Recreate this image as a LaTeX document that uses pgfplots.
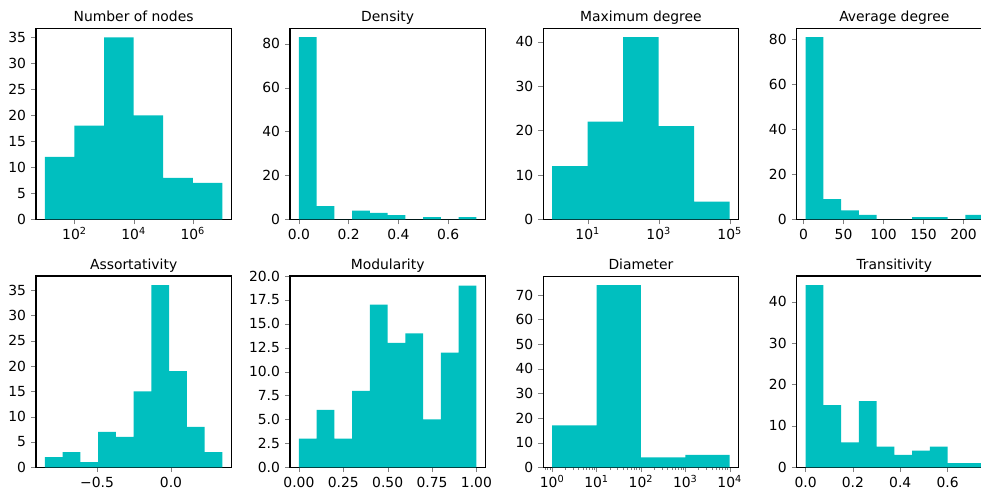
\documentclass[border=0pt]{standalone}
\usepackage{fontspec}
\setmainfont{DejaVu Sans}
\usepackage{pgfplots}
\pgfplotsset{compat=1.18}
\definecolor{histc}{HTML}{00BFBF}

% matplotlib-like panel: 1px = 0.72pt
\pgfplotsset{
  hist/.style={
    scale only axis, width=140.6pt, height=137.7pt, anchor=south west,
    line width=0.8pt, tick align=outside, xtick pos=left, ytick pos=left,
    major tick length=3.5pt, minor tick length=2pt,
    every minor tick/.append style={line width=0.6pt},
    ymin=0, xminorticks=false, yminorticks=false,
    every axis title shift=0pt,
    title style={at={(0.5,1)}, anchor=base, yshift=4.8pt, inner sep=0pt},
  },
}
\newcommand{\e}[1]{10\smash{\textsuperscript{#1}}}

\begin{document}
\begin{tikzpicture}
\path[use as bounding box] (0,0) rectangle (706.32pt,352.8pt);
\clip (0,0) rectangle (706.32pt,352.8pt);

% ---- top row ----
\begin{axis}[hist, at={(25.92pt,194.83pt)}, title={Number of nodes},
  xmode=log, xmin=5.012, xmax=1.995e7, ymax=36.75,
  xtick={1e2,1e4,1e6}, xticklabels={\e{2},\e{4},\e{6}},
  ytick={0,5,...,35}, yticklabels={0,5,10,15,20,25,30,35}]
\addplot[ybar interval, fill=histc, draw=none] coordinates {
  (1e1,12) (1e2,18) (1e3,35) (1e4,20) (1e5,8) (1e6,7) (1e7,0)};
\end{axis}

\begin{axis}[hist, at={(208.8pt,194.83pt)}, title={Density},
  xmin=-0.0357, xmax=0.7497, ymax=87.15,
  xtick={0,0.2,0.4,0.6}, xticklabels={0.0,0.2,0.4,0.6},
  ytick={0,20,...,80}, yticklabels={0,20,40,60,80}]
\addplot[ybar interval, fill=histc, draw=none] coordinates {
  (0,83) (0.0714,6) (0.1428,0) (0.2142,4) (0.2856,3) (0.357,2)
  (0.4284,0) (0.4998,1) (0.5712,0) (0.6426,1) (0.714,0)};
\end{axis}

\begin{axis}[hist, at={(391.18pt,194.83pt)}, title={Maximum degree},
  xmode=log, xmin=0.5623, xmax=177828, ymax=43.05,
  xtick={1e1,1e3,1e5}, xticklabels={\e{1},\e{3},\e{5}},
  ytick={0,10,...,40}, yticklabels={0,10,20,30,40}]
\addplot[ybar interval, fill=histc, draw=none] coordinates {
  (1,12) (1e1,22) (1e2,41) (1e3,21) (1e4,4) (1e5,0)};
\end{axis}

\begin{axis}[hist, at={(573.62pt,194.83pt)}, title={Average degree},
  xmin=-8.6, xmax=235.6, ymax=85.05,
  xtick={0,50,...,200}, xticklabels={0,50,100,150,200},
  ytick={0,20,...,80}, yticklabels={0,20,40,60,80}]
\addplot[ybar interval, fill=histc, draw=none] coordinates {
  (2.5,81) (24.7,9) (46.9,4) (69.1,2) (91.3,0) (113.5,0)
  (135.7,1) (157.9,1) (180.1,0) (202.3,2) (224.5,0)};
\end{axis}

% ---- bottom row ----
\begin{axis}[hist, at={(25.92pt,16.34pt)}, title={Assortativity},
  xmin=-0.913, xmax=0.408, ymax=37.8,
  xtick={-0.5,0}, xticklabels={−0.5,0.0},
  ytick={0,5,...,35}, yticklabels={0,5,10,15,20,25,30,35}]
\addplot[ybar interval, fill=histc, draw=none] coordinates {
  (-0.853,2) (-0.733,3) (-0.613,1) (-0.493,7) (-0.373,6) (-0.253,15)
  (-0.133,36) (-0.013,19) (0.107,8) (0.227,3) (0.348,0)};
\end{axis}

\begin{axis}[hist, at={(208.8pt,16.34pt)}, title={Modularity},
  xmin=-0.05, xmax=1.05, ymax=20,
  xtick={0,0.25,0.5,0.75,1}, xticklabels={0.00,0.25,0.50,0.75,1.00},
  ytick={0,2.5,...,20}, yticklabels={0.0,2.5,5.0,7.5,10.0,12.5,15.0,17.5,20.0}]
\addplot[ybar interval, fill=histc, draw=none] coordinates {
  (0,3) (0.1,6) (0.2,3) (0.3,8) (0.4,17) (0.5,13) (0.6,14)
  (0.7,5) (0.8,12) (0.9,19) (1.0,0)};
\end{axis}

\begin{axis}[hist, at={(391.18pt,16.34pt)}, title={Diameter},
  xmode=log, xmin=0.631, xmax=15849, ymax=77.7,
  xtick={1,1e1,1e2,1e3,1e4}, xticklabels={\e{0},\e{1},\e{2},\e{3},\e{4}},
  xminorticks=true,
  minor xtick={0.7,0.8,0.9,2,3,4,5,6,7,8,9,20,30,40,50,60,70,80,90,
    200,300,400,500,600,700,800,900,2000,3000,4000,5000,6000,7000,8000,9000},
  ytick={0,10,...,70}, yticklabels={0,10,20,30,40,50,60,70}]
\addplot[ybar interval, fill=histc, draw=none] coordinates {
  (1,17) (1e1,74) (1e2,4) (1e3,5) (1e4,0)};
\end{axis}

\begin{axis}[hist, at={(573.62pt,16.34pt)}, title={Transitivity},
  xmin=-0.0375, xmax=0.7875, ymax=46.2,
  xtick={0,0.2,0.4,0.6}, xticklabels={0.0,0.2,0.4,0.6},
  ytick={0,10,...,40}, yticklabels={0,10,20,30,40}]
\addplot[ybar interval, fill=histc, draw=none] coordinates {
  (0,44) (0.075,15) (0.15,6) (0.225,16) (0.3,5) (0.375,3)
  (0.45,4) (0.525,5) (0.6,1) (0.675,1) (0.75,0)};
\end{axis}
\end{tikzpicture}
\end{document}
